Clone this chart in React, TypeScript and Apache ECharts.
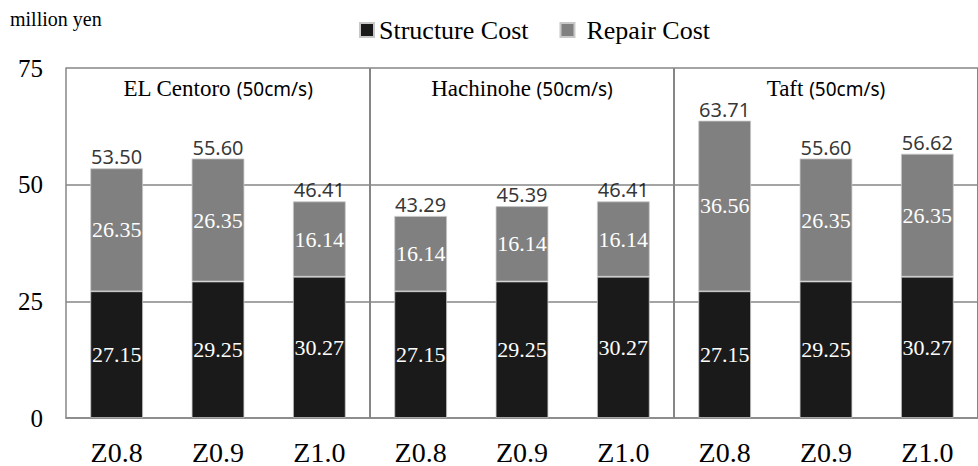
import React, { useEffect, useRef } from "react";
import * as echarts from "echarts";

// Cost breakdown per design case, grouped by input ground motion
const categories = ["Z0.8", "Z0.9", "Z1.0", "Z0.8", "Z0.9", "Z1.0", "Z0.8", "Z0.9", "Z1.0"];
const groups = ["EL Centoro (50cm/s)", "Hachinohe (50cm/s)", "Taft (50cm/s)"];
const structureCost = [27.15, 29.25, 30.27, 27.15, 29.25, 30.27, 27.15, 29.25, 30.27];
const repairCost = [26.35, 26.35, 16.14, 16.14, 16.14, 16.14, 36.56, 26.35, 26.35];
const yTicks = [0, 25, 50, 75];

const totals = structureCost.map((s, i) => +(s + repairCost[i]).toFixed(2));

const SERIF = "Liberation Serif";
const SANS = "Noto Sans";
const GRID_GRAY = "#868686";

export default function App() {
  const ref = useRef<HTMLDivElement>(null);

  useEffect(() => {
    if (!ref.current) return;
    const chart = echarts.init(ref.current, undefined, { renderer: "svg" });
    chart.setOption({
      animation: false,
      backgroundColor: "#ffffff",
      textStyle: { fontFamily: SERIF },
      graphic: [
        {
          type: "text",
          left: 10,
          top: 9,
          style: { text: "million yen", fontFamily: SERIF, fontSize: 20, fill: "#000" },
        },
      ],
      legend: {
        left: 354,
        top: 12,
        data: ["Structure Cost", "Repair Cost"],
        icon: "rect",
        itemWidth: 14,
        itemHeight: 14,
        itemGap: 31,
        formatter: (name: string) =>
          name === "Repair Cost" ? `{p|${name}}` : `{s|${name}}`,
        textStyle: {
          fontFamily: SERIF,
          fontSize: 26,
          color: "#000",
          rich: {
            s: { fontFamily: SERIF, fontSize: 26, color: "#000" },
            p: { fontFamily: SERIF, fontSize: 26, color: "#000", padding: [0, 0, 0, 7] },
          },
        },
      },
      grid: { left: 66, right: -11, top: 68, bottom: 48 },
      xAxis: [
        {
          type: "category",
          data: categories,
          axisTick: { show: false },
          axisLine: { show: true, lineStyle: { color: GRID_GRAY, width: 1.5 } },
          axisLabel: {
            margin: 20,
            interval: 0,
            fontFamily: SERIF,
            fontSize: 28,
            color: "#000",
          },
          splitLine: {
            show: true,
            interval: (index: number) => index > 0 && index % 3 === 0,
            lineStyle: { color: GRID_GRAY, width: 2 },
          },
        },
        {
          type: "category",
          data: groups,
          position: "top",
          axisTick: { show: false },
          axisLine: { show: false },
          axisLabel: {
            inside: true,
            margin: 9,
            interval: 0,
            formatter: (v: string) => {
              const k = v.indexOf("(");
              return `{a|${v.slice(0, k)}}{b|${v.slice(k)}}`;
            },
            rich: {
              a: { fontFamily: SERIF, fontSize: 23, color: "#000" },
              b: { fontFamily: SANS, fontSize: 19, color: "#000" },
            },
          },
        },
      ],
      yAxis: {
        type: "value",
        min: 0,
        max: 75,
        interval: 25,
        axisLine: { show: true, lineStyle: { color: GRID_GRAY, width: 1.5 } },
        axisTick: { show: false },
        axisLabel: {
          margin: 23,
          fontFamily: SERIF,
          fontSize: 25,
          color: "#000",
          formatter: (v: number) => (yTicks.includes(v) ? String(v) : ""),
        },
        splitLine: { show: true, lineStyle: { color: GRID_GRAY, width: 1.5 } },
      },
      series: [
        {
          name: "Structure Cost",
          type: "bar",
          stack: "cost",
          barWidth: "52%",
          data: structureCost,
          itemStyle: { color: "#1a1a1a", borderColor: "#c8c8c8", borderWidth: 0.8 },
          label: {
            show: true,
            position: "inside",
            formatter: (p: any) => p.value.toFixed(2),
            fontFamily: SERIF,
            fontSize: 22,
            color: "#ffffff",
          },
        },
        {
          name: "Repair Cost",
          type: "bar",
          stack: "cost",
          barWidth: "52%",
          data: repairCost,
          itemStyle: { color: "#808080", borderColor: "#c8c8c8", borderWidth: 0.8 },
          label: {
            show: true,
            position: "inside",
            formatter: (p: any) => p.value.toFixed(2),
            fontFamily: SERIF,
            fontSize: 22,
            color: "#ffffff",
          },
        },
        {
          name: "Total",
          type: "scatter",
          data: totals,
          symbolSize: 1,
          itemStyle: { color: "rgba(0,0,0,0)" },
          silent: true,
          label: {
            show: true,
            position: "top",
            distance: 1,
            formatter: (p: any) => p.value.toFixed(2),
            fontFamily: SANS,
            fontSize: 20,
            color: "#000",
          },
        },
      ],
    });
    return () => chart.dispose();
  }, []);

  return (
    <div
      ref={ref}
      style={{ position: "fixed", left: 0, top: 0, width: 978, height: 466 }}
    />
  );
}
